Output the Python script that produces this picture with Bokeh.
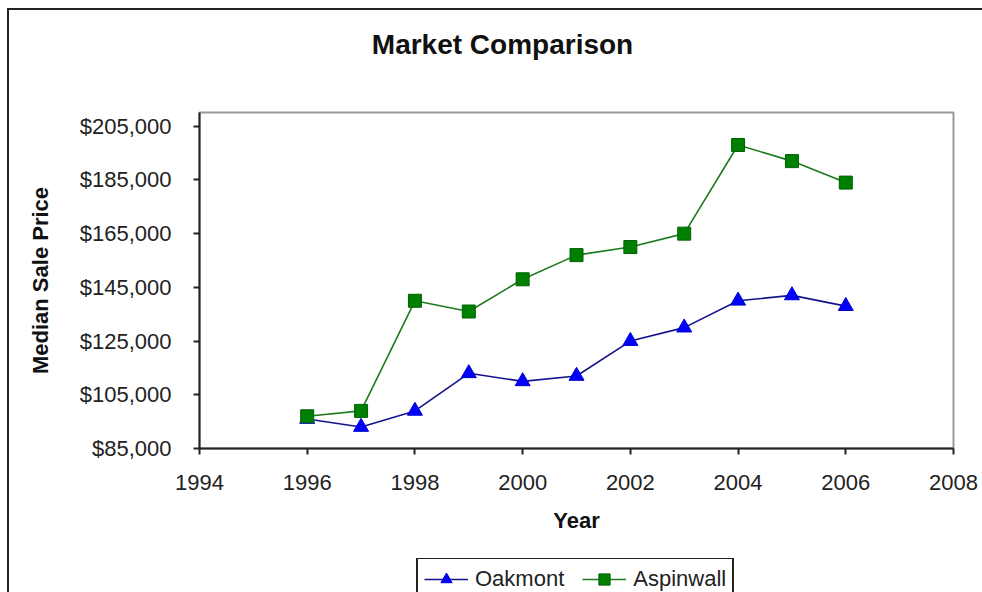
from bokeh.plotting import figure
from bokeh.layouts import column
from bokeh.models import (ColumnDataSource, Legend, LegendItem, Label,
                          NumeralTickFormatter, FixedTicker, Range1d)
from bokeh.embed import file_html
from bokeh.resources import INLINE

years = [1996, 1997, 1998, 1999, 2000, 2001, 2002, 2003, 2004, 2005, 2006]
oakmont = [96000, 93000, 99000, 113000, 110000, 112000, 125000, 130000, 140000, 142000, 138000]
aspinwall = [97000, 99000, 140000, 136000, 148000, 157000, 160000, 165000, 198000, 192000, 184000]
x_ticks = [1994, 1996, 1998, 2000, 2002, 2004, 2006, 2008]
y_ticks = [85000, 105000, 125000, 145000, 165000, 185000, 205000]
series_names = ["Oakmont", "Aspinwall"]
chart_title = "Market Comparison"

FONT = "Liberation Sans"
W = 973
BL, BR = 190, 29   # shared left/right borders (column aligns them)

OAK_LINE, OAK_FILL, OAK_EDGE = "#14148C", "#0000FF", "#0000CC"
ASP_LINE, ASP_FILL, ASP_EDGE = "#1E7A1E", "#008000", "#006000"


def bare(fig):
    fig.grid.visible = False
    fig.outline_line_color = None
    fig.background_fill_color = "white"
    fig.border_fill_color = "white"
    return fig


# ---- title strip ----
t = bare(figure(width=W, height=90, output_backend="svg", toolbar_location=None,
                x_axis_location=None, y_axis_location=None,
                x_range=Range1d(0, 1), y_range=Range1d(0, 1),
                min_border_left=BL, min_border_right=BR,
                min_border_top=0, min_border_bottom=0))
t.add_layout(Label(x=303, y=56, x_units="screen", y_units="screen",
                   text=chart_title, text_align="center",
                   text_baseline="middle", text_font=FONT,
                   text_font_size="28px", text_font_style="bold",
                   text_color="#111111"))

# ---- main chart ----
src = ColumnDataSource(dict(year=years, oak=oakmont, asp=aspinwall))
p = figure(width=W, height=458, output_backend="svg", toolbar_location=None,
           x_range=Range1d(1994, 2008), y_range=Range1d(85000, 210100),
           min_border_left=BL, min_border_right=BR,
           min_border_top=12, min_border_bottom=110)
p.grid.visible = False
p.background_fill_color = "white"
p.border_fill_color = "white"
p.outline_line_color = "#9a9a9a"
p.outline_line_width = 2

for ax in (p.xaxis[0], p.yaxis[0]):
    ax.axis_line_color = "#222222"
    ax.axis_line_width = 2
    ax.major_tick_line_color = "#222222"
    ax.major_tick_line_width = 2
    ax.major_tick_in = 0
    ax.major_tick_out = 6
    ax.minor_tick_line_color = None
    ax.major_label_text_font = FONT
    ax.major_label_text_font_size = "22px"
    ax.major_label_text_color = "#222222"
    ax.axis_label_text_font = FONT
    ax.axis_label_text_font_size = "22px"
    ax.axis_label_text_font_style = "bold"
    ax.axis_label_text_color = "#111111"

p.xaxis.ticker = FixedTicker(ticks=x_ticks)
p.yaxis.ticker = FixedTicker(ticks=y_ticks)
p.yaxis.formatter = NumeralTickFormatter(format="$0,0")
p.xaxis.major_label_standoff = 20
p.yaxis.major_label_standoff = 22
p.xaxis.axis_label = "Year"
p.yaxis.axis_label = "Median Sale Price"
p.xaxis.axis_label_standoff = 15
p.yaxis.axis_label_standoff = 24

p.line("year", "oak", source=src, line_color=OAK_LINE, line_width=1.6)
p.scatter("year", "oak", source=src, marker="triangle", size=15,
          fill_color=OAK_FILL, line_color=OAK_EDGE, line_width=1)
p.line("year", "asp", source=src, line_color=ASP_LINE, line_width=1.6)
p.scatter("year", "asp", source=src, marker="square", size=13,
          fill_color=ASP_FILL, line_color=ASP_EDGE, line_width=1)

# ---- legend strip ----
lg = bare(figure(width=W, height=34, output_backend="svg", toolbar_location=None,
                 x_axis_location=None, y_axis_location=None,
                 x_range=Range1d(0, 1), y_range=Range1d(0, 1),
                 min_border_left=BL, min_border_right=BR,
                 min_border_top=0, min_border_bottom=0))
# one real point per series (outside this strip's ranges) so the legend glyphs draw
lsrc = ColumnDataSource(dict(x=years[:1], oak=oakmont[:1], asp=aspinwall[:1]))
r1 = lg.line("x", "oak", source=lsrc, line_color=OAK_LINE, line_width=1.6)
s1 = lg.scatter("x", "oak", source=lsrc, marker="triangle",
                fill_color=OAK_FILL, line_color=OAK_EDGE, line_width=1)
r2 = lg.line("x", "asp", source=lsrc, line_color=ASP_LINE, line_width=1.6)
s2 = lg.scatter("x", "asp", source=lsrc, marker="square",
                fill_color=ASP_FILL, line_color=ASP_EDGE, line_width=1)
legend = Legend(items=[LegendItem(label=series_names[0], renderers=[r1, s1]),
                       LegendItem(label=series_names[1], renderers=[r2, s2])],
                orientation="horizontal", location=(217, -9),
                label_text_font=FONT, label_text_font_size="22px",
                label_text_color="#222222",
                glyph_width=44, glyph_height=28, label_standoff=7,
                spacing=18, padding=6, margin=0,
                border_line_color="#222222", border_line_width=2,
                border_line_alpha=1,
                background_fill_color="white", background_fill_alpha=1)
lg.add_layout(legend, "center")

layout = column(t, p, lg, spacing=0)
layout.styles = {"border-top": "2px solid #222", "border-left": "2px solid #222",
                 "margin-left": "7px", "margin-top": "8px"}

open("out.html", "w").write(file_html(layout, INLINE))
